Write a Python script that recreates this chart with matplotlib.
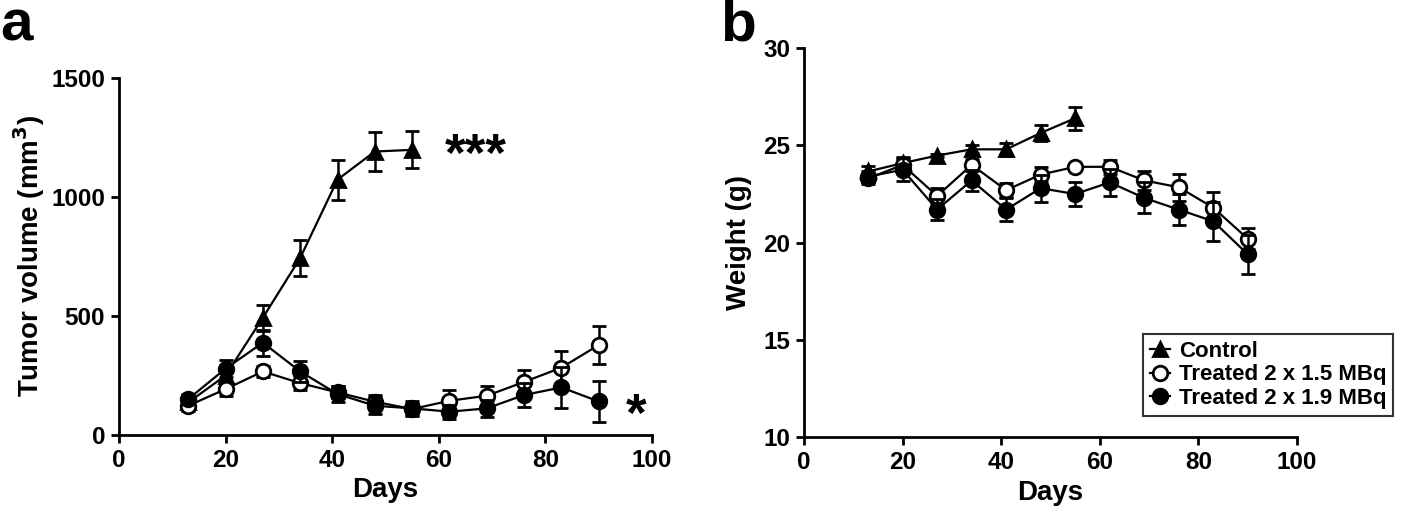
import matplotlib
matplotlib.use("Agg")
import matplotlib.pyplot as plt
from matplotlib.lines import Line2D
from matplotlib import font_manager

# fonts: condensed bold for ticks if present
names = set(f.name for f in font_manager.fontManager.ttflist)
tick_font = "Liberation Sans Narrow" if "Liberation Sans Narrow" in names else "Liberation Sans"
plt.rcParams['font.family'] = ['Liberation Sans', 'DejaVu Sans']
plt.rcParams['font.weight'] = 'bold'

# data
days = [13, 20, 27, 34, 41, 48, 55, 62, 69, 76, 83, 90]
ctrl_days = days[:7]

tumor_ctrl = [137, 250, 493, 744, 1073, 1191, 1198]
tumor_ctrl_err = [25, 30, 55, 75, 84, 80, 78]
tumor_15 = [123, 193, 267, 218, 179, 140, 109, 144, 165, 223, 283, 378]
tumor_15_err = [20, 30, 25, 30, 25, 30, 25, 45, 40, 50, 70, 80]
tumor_19 = [151, 279, 388, 267, 172, 123, 112, 98, 112, 168, 200, 141]
tumor_19_err = [20, 35, 55, 45, 35, 35, 30, 30, 35, 50, 85, 85]

weight_ctrl = [23.66, 24.09, 24.48, 24.8, 24.8, 25.64, 26.4]
weight_ctrl_err = [0.3, 0.3, 0.1, 0.2, 0.35, 0.4, 0.6]
weight_15 = [23.3, 24.0, 22.4, 24.0, 22.7, 23.5, 23.9, 23.9, 23.2, 22.85, 21.8, 20.2]
weight_15_err = [0.3, 0.3, 0.4, 0.3, 0.35, 0.4, 0.1, 0.35, 0.5, 0.7, 0.8, 0.55]
weight_19 = [23.4, 23.75, 21.7, 23.2, 21.7, 22.8, 22.5, 23.1, 22.3, 21.7, 21.1, 19.4]
weight_19_err = [0.3, 0.6, 0.55, 0.55, 0.6, 0.7, 0.6, 0.7, 0.8, 0.8, 1.0, 1.0]

labels = ['Control', 'Treated 2 x 1.5 MBq', 'Treated 2 x 1.9 MBq']

fig = plt.figure(figsize=(14.18, 5.13), dpi=100)
ax1 = fig.add_axes([0.0839, 0.152, 0.3759, 0.696])
ax2 = fig.add_axes([0.567, 0.148, 0.3477, 0.758])

common = dict(color='black', ecolor='black', lw=1.6, elinewidth=1.8,
              capsize=5, capthick=1.8, markersize=10.5, markeredgewidth=2)


def draw(ax, cy, ce, oy, oe, fy, fe):
    ax.errorbar(ctrl_days, cy, yerr=ce, marker='^', mfc='black', zorder=3, **common)
    ax.errorbar(days, oy, yerr=oe, marker='o', mfc='white', zorder=4, **common)
    ax.errorbar(days, fy, yerr=fe, marker='o', mfc='black', zorder=5, **common)
    for s in ['top', 'right']:
        ax.spines[s].set_visible(False)
    for s in ['left', 'bottom']:
        ax.spines[s].set_linewidth(2)
    ax.tick_params(direction='out', length=6, width=2, labelsize=17.5, pad=4)
    ax.set_xlim(0, 100)
    ax.set_xticks([0, 20, 40, 60, 80, 100])
    ax.set_xlabel('Days', fontsize=20, fontweight='bold', labelpad=4)


draw(ax1, tumor_ctrl, tumor_ctrl_err, tumor_15, tumor_15_err, tumor_19, tumor_19_err)
ax1.set_ylim(0, 1500)
ax1.set_yticks([0, 500, 1000, 1500])
ax1.set_ylabel('Tumor volume (mm$^\\mathbf{3}$)', fontsize=20, fontweight='bold', labelpad=3)
ax1.text(67, 1170, '***', fontsize=38, fontweight='bold', ha='center', va='center')
ax1.text(97, 78, '*', fontsize=38, fontweight='bold', ha='center', va='center')

draw(ax2, weight_ctrl, weight_ctrl_err, weight_15, weight_15_err, weight_19, weight_19_err)
ax2.set_ylim(10, 30)
ax2.set_yticks([10, 15, 20, 25, 30])
ax2.set_ylabel('Weight (g)', fontsize=20, fontweight='bold', labelpad=8)

for ax in (ax1, ax2):
    for lab in ax.get_xticklabels() + ax.get_yticklabels():
        lab.set_fontfamily(tick_font)
        lab.set_fontweight('bold')

handles = [
    Line2D([], [], color='black', lw=1.6, marker='^', mfc='black', markersize=10.5, markeredgewidth=2),
    Line2D([], [], color='black', lw=1.6, marker='o', mfc='white', markersize=10.5, markeredgewidth=2),
    Line2D([], [], color='black', lw=1.6, marker='o', mfc='black', markersize=10.5, markeredgewidth=2),
]
leg = ax2.legend(handles, labels, loc='lower right', bbox_to_anchor=(1.195, 0.055),
                 fontsize=16, frameon=True, fancybox=False, edgecolor='black',
                 handlelength=0.9, handletextpad=0.4, borderpad=0.3, labelspacing=0.12,
                 borderaxespad=0)
leg.get_frame().set_linewidth(1.5)
for t in leg.get_texts():
    t.set_fontweight('bold')

fig.text(0.0, 0.922, 'a', fontsize=42, fontweight='bold')
fig.text(0.508, 0.922, 'b', fontsize=42, fontweight='bold')

fig.savefig('out.png', dpi=100)
